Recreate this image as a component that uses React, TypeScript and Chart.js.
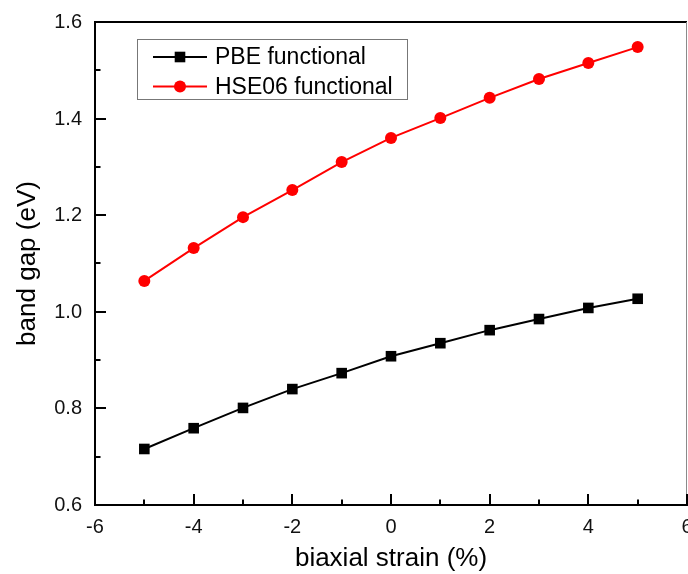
import React, { useEffect, useRef } from 'react';
import { Chart, registerables } from 'chart.js';

Chart.register(...registerables);

const strain = [-5, -4, -3, -2, -1, 0, 1, 2, 3, 4, 5];
const pbeGap = [0.716, 0.759, 0.801, 0.840, 0.873, 0.908, 0.935, 0.962, 0.985, 1.008, 1.027];
const hseGap = [1.064, 1.132, 1.196, 1.252, 1.310, 1.360, 1.401, 1.443, 1.482, 1.515, 1.548];
const seriesLabels = ['PBE functional', 'HSE06 functional'];
const xMajorTicks = [-6, -4, -2, 0, 2, 4, 6];
const xMinorTicks = [-5, -3, -1, 1, 3, 5];
const yMajorTicks = [0.6, 0.8, 1.0, 1.2, 1.4, 1.6];
const yMinorTicks = [0.7, 0.9, 1.1, 1.3, 1.5];
const xTickLabels = ['-6', '-4', '-2', '0', '2', '4', '6'];
const yTickLabels = ['0.6', '0.8', '1.0', '1.2', '1.4', '1.6'];
const xTitle = 'biaxial strain (%)';
const yTitle = 'band gap (eV)';

const FONT = "Arial, 'Liberation Sans', sans-serif";

const framePlugin = {
  id: 'frameAndLegend',
  afterDraw(chart: any) {
    const { ctx, chartArea, scales } = chart;
    const { left, right, top, bottom } = chartArea;
    const xs = scales.x;
    const ys = scales.y;
    ctx.save();
    // top border
    ctx.strokeStyle = '#000';
    ctx.lineWidth = 2;
    ctx.beginPath();
    ctx.moveTo(left - 1, top);
    ctx.lineTo(right, top);
    ctx.stroke();
    // right border
    ctx.strokeStyle = '#8a8a8a';
    ctx.lineWidth = 1;
    ctx.beginPath();
    ctx.moveTo(right - 0.5, top);
    ctx.lineTo(right - 0.5, bottom);
    ctx.stroke();
    // ticks (inward)
    ctx.strokeStyle = '#000';
    ctx.lineWidth = 2;
    const xTick = (v: number, len: number) => {
      const px = Math.round(xs.getPixelForValue(v));
      ctx.beginPath();
      ctx.moveTo(px, bottom);
      ctx.lineTo(px, bottom - len);
      ctx.stroke();
    };
    const yTick = (v: number, len: number) => {
      const py = Math.round(ys.getPixelForValue(v));
      ctx.beginPath();
      ctx.moveTo(left, py);
      ctx.lineTo(left + len, py);
      ctx.stroke();
    };
    xMajorTicks.forEach((v) => xTick(v, 11));
    xMinorTicks.forEach((v) => xTick(v, 5.5));
    yMajorTicks.forEach((v) => yTick(v, 11));
    yMinorTicks.forEach((v) => yTick(v, 5.5));
    // tick labels
    ctx.fillStyle = '#111';
    ctx.font = `20px ${FONT}`;
    ctx.textBaseline = 'middle';
    ctx.textAlign = 'center';
    xMajorTicks.forEach((v, i) => {
      ctx.fillText(xTickLabels[i], xs.getPixelForValue(v), bottom + 22);
    });
    ctx.textAlign = 'right';
    yMajorTicks.forEach((v, i) => {
      ctx.fillText(yTickLabels[i], left - 13, ys.getPixelForValue(v) + 0.5);
    });
    // legend
    const bx = left + 42;
    const by = top + 17;
    const bw = 270;
    const bh = 60;
    ctx.strokeStyle = '#777';
    ctx.lineWidth = 1;
    ctx.strokeRect(bx + 0.5, by + 0.5, bw, bh);
    chart.data.datasets.forEach((ds: any, i: number) => {
      const cy = by + 18 + i * 29.5;
      ctx.strokeStyle = ds.borderColor;
      ctx.lineWidth = 2;
      ctx.beginPath();
      ctx.moveTo(bx + 16, cy);
      ctx.lineTo(bx + 70, cy);
      ctx.stroke();
      ctx.fillStyle = ds.pointBackgroundColor;
      if (ds.pointStyle === 'rect') {
        ctx.fillRect(bx + 43 - 5.3, cy - 5.3, 10.6, 10.6);
      } else {
        ctx.beginPath();
        ctx.arc(bx + 43, cy, 6, 0, Math.PI * 2);
        ctx.fill();
      }
      ctx.fillStyle = '#000';
      ctx.font = `23px ${FONT}`;
      ctx.textBaseline = 'middle';
      ctx.textAlign = 'left';
      ctx.fillText(ds.label, bx + 78, cy + 1);
    });
    ctx.restore();
  },
};

export default function App() {
  const canvasRef = useRef<HTMLCanvasElement | null>(null);

  useEffect(() => {
    const canvas = canvasRef.current;
    if (!canvas) return;
    const chart = new Chart(canvas, {
      type: 'line',
      data: {
        datasets: [
          {
            label: seriesLabels[0],
            data: strain.map((x, i) => ({ x, y: pbeGap[i] })),
            borderColor: '#000',
            backgroundColor: '#000',
            pointBackgroundColor: '#000',
            pointBorderColor: '#000',
            pointStyle: 'rect',
            pointRadius: 7.5,
            pointBorderWidth: 0,
            borderWidth: 2,
            tension: 0,
          },
          {
            label: seriesLabels[1],
            data: strain.map((x, i) => ({ x, y: hseGap[i] })),
            borderColor: '#ff0000',
            backgroundColor: '#ff0000',
            pointBackgroundColor: '#ff0000',
            pointBorderColor: '#ff0000',
            pointStyle: 'circle',
            pointRadius: 6,
            pointBorderWidth: 0,
            borderWidth: 2,
            tension: 0,
          },
        ],
      },
      options: {
        responsive: false,
        animation: false,
        devicePixelRatio: 1,
        layout: { autoPadding: false, padding: { top: 22, right: 1, left: 0, bottom: 0 } },
        plugins: {
          legend: { display: false },
          tooltip: { enabled: false },
        },
        scales: {
          x: {
            type: 'linear',
            min: -6,
            max: 6,
            afterFit: (s: any) => {
              s.height = 69;
              s.paddingLeft = 0;
              s.paddingRight = 0;
            },
            border: { display: true, color: '#000', width: 2 },
            grid: { display: true, drawOnChartArea: false, drawTicks: false },
            ticks: { display: false },
            title: {
              display: true,
              text: xTitle,
              color: '#000',
              font: { family: FONT, size: 26 },
              padding: { top: 0, bottom: 0 },
            },
          },
          y: {
            type: 'linear',
            min: 0.6,
            max: 1.6,
            afterFit: (s: any) => {
              s.width = 95;
              s.paddingTop = 0;
              s.paddingBottom = 0;
            },
            border: { display: true, color: '#000', width: 2 },
            grid: { display: true, drawOnChartArea: false, drawTicks: false },
            ticks: { display: false },
            title: {
              display: true,
              text: yTitle,
              color: '#000',
              font: { family: FONT, size: 26 },
              padding: { top: 12, bottom: 0 },
            },
          },
        },
      },
      plugins: [framePlugin],
    });
    return () => chart.destroy();
  }, []);

  return (
    <div style={{ position: 'absolute', left: 0, top: 0, width: 688, height: 574, background: '#fff' }}>
      <canvas ref={canvasRef} width={688} height={574} />
    </div>
  );
}
